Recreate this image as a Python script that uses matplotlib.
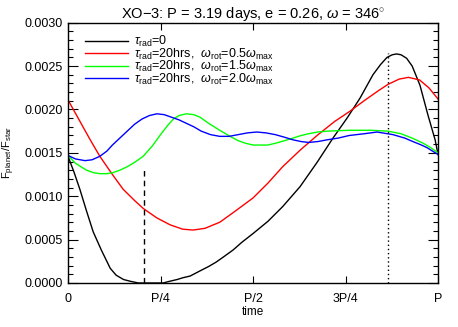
import numpy as np
import matplotlib
matplotlib.use("Agg")
import matplotlib.pyplot as plt
from matplotlib.ticker import MultipleLocator, FixedLocator, FormatStrFormatter

plt.rcParams['font.family'] = ['Liberation Sans', 'DejaVu Sans']
plt.rcParams['mathtext.fontset'] = 'custom'
plt.rcParams['mathtext.rm'] = 'Liberation Sans'
plt.rcParams['mathtext.it'] = 'Liberation Sans:italic'

# orbital phase values
black_x = [0.0, 0.016, 0.032, 0.05, 0.068, 0.09, 0.114, 0.13, 0.15, 0.168, 0.19,
           0.257, 0.275, 0.295, 0.31, 0.33, 0.357, 0.38, 0.40, 0.42, 0.446, 0.47,
           0.50, 0.54, 0.58, 0.627, 0.673, 0.716, 0.754, 0.789, 0.824, 0.845,
           0.862, 0.876, 0.888, 0.90, 0.915, 0.93, 0.951, 0.973, 0.992, 1.0]
black_y = [0.00146, 0.00128, 0.00108, 0.00083, 0.00059, 0.00038, 0.00017, 0.00009,
           0.00004, 0.00002, 0.0, 0.0, 0.00002, 0.00004, 0.00006, 0.00008,
           0.00014, 0.00019, 0.00024, 0.0003, 0.00038, 0.00047, 0.00057, 0.00071,
           0.00088, 0.00111, 0.00139, 0.00167, 0.0019, 0.00213, 0.0024, 0.00252,
           0.0026, 0.00263, 0.00264, 0.00263, 0.00259, 0.0025, 0.00228, 0.00193,
           0.00165, 0.00148]

red_x = [0.0, 0.03, 0.06, 0.086, 0.12, 0.149, 0.18, 0.203, 0.24, 0.276, 0.31,
         0.338, 0.37, 0.41, 0.446, 0.50, 0.54, 0.58, 0.627, 0.673, 0.72, 0.762,
         0.80, 0.84, 0.865, 0.895, 0.92, 0.95, 0.975, 1.0]
red_y = [0.00211, 0.00188, 0.00165, 0.00146, 0.00125, 0.00108, 0.00095, 0.00086,
         0.00075, 0.00067, 0.00062, 0.00061, 0.00063, 0.0007, 0.00081, 0.00098,
         0.00115, 0.00134, 0.00153, 0.0017, 0.00186, 0.00198, 0.0021, 0.00222,
         0.00229, 0.00235, 0.00237, 0.00234, 0.00225, 0.00212]

green_x = [0.0, 0.02, 0.05, 0.07, 0.086, 0.105, 0.12, 0.14, 0.16, 0.18, 0.203,
           0.228, 0.25, 0.27, 0.285, 0.30, 0.32, 0.34, 0.357, 0.38, 0.41, 0.438,
           0.46, 0.48, 0.50, 0.519, 0.54, 0.56, 0.585, 0.608, 0.63, 0.65, 0.675,
           0.70, 0.76, 0.82, 0.865, 0.9, 0.93, 0.96, 0.98, 1.0]
green_y = [0.00147, 0.00138, 0.0013, 0.00127, 0.00126, 0.00126, 0.00127, 0.0013,
           0.00134, 0.00139, 0.00146, 0.00158, 0.00171, 0.00182, 0.00189, 0.00193,
           0.00195, 0.00194, 0.00191, 0.00184, 0.00176, 0.00169, 0.00164, 0.00161,
           0.00159, 0.00159, 0.00159, 0.00161, 0.00164, 0.00167, 0.0017, 0.00172,
           0.00174, 0.00175, 0.00176, 0.00176, 0.00175, 0.00172, 0.00167, 0.00161,
           0.00156, 0.0015]

blue_x = [0.0, 0.02, 0.046, 0.065, 0.086, 0.105, 0.12, 0.14, 0.16, 0.18, 0.20,
          0.22, 0.24, 0.26, 0.28, 0.30, 0.32, 0.34, 0.36, 0.385, 0.41, 0.435,
          0.46, 0.485, 0.51, 0.535, 0.56, 0.585, 0.608, 0.63, 0.65, 0.675, 0.70,
          0.73, 0.76, 0.80, 0.835, 0.878, 0.91, 0.932, 0.955, 0.97, 0.985, 1.0]
blue_y = [0.00147, 0.00143, 0.00141, 0.00142, 0.00146, 0.00152, 0.00159, 0.00167,
          0.00175, 0.00183, 0.00189, 0.00193, 0.00195, 0.00194, 0.00191, 0.00188,
          0.00184, 0.0018, 0.00175, 0.00171, 0.00169, 0.00169, 0.00171, 0.00173,
          0.00174, 0.00173, 0.00171, 0.00168, 0.00165, 0.00163, 0.00162, 0.00163,
          0.00165, 0.00167, 0.0017, 0.00172, 0.00174, 0.00171, 0.00167, 0.00163,
          0.00159, 0.00156, 0.00152, 0.00148]

labels = [r'$\tau_{\rm rad}$=0',
          r'$\tau_{\rm rad}$=20hrs,  $\omega_{\rm rot}$=0.5$\omega_{\rm max}$',
          r'$\tau_{\rm rad}$=20hrs,  $\omega_{\rm rot}$=1.5$\omega_{\rm max}$',
          r'$\tau_{\rm rad}$=20hrs,  $\omega_{\rm rot}$=2.0$\omega_{\rm max}$']
colors = ['black', '#ff0000', '#00ff00', '#0000ff']

# vertical markers (transit / periastron)
dash_x, dash_top = 0.205, 0.00132
dot_x, dot_top = 0.864, 0.00265

xtick_pos = [0, 0.25, 0.5, 0.75, 1.0]
xtick_lab = ['0', 'P/4', 'P/2', '3P/4', 'P']

fig = plt.figure(figsize=(4.58, 3.27), dpi=100)
ax = fig.add_axes([0.1485, 0.1346, 0.808, 0.796])

series = [(black_x, black_y), (red_x, red_y), (green_x, green_y), (blue_x, blue_y)]
for (xs, ys), c, lab in zip(series, colors, labels):
    ax.plot(xs, ys, color=c, lw=1.0, label=lab)

ax.plot([dash_x, dash_x], [0, dash_top], color='black', lw=1.0, ls=(0, (4, 3)))
ax.plot([dot_x, dot_x], [0, dot_top], color='black', lw=1.0, ls=(0, (1, 2)))

ax.set_xlim(0, 1)
ax.set_ylim(0, 0.003)
ax.xaxis.set_major_locator(FixedLocator(xtick_pos))
ax.set_xticklabels(xtick_lab)
ax.yaxis.set_major_locator(MultipleLocator(0.0005))
ax.yaxis.set_minor_locator(MultipleLocator(0.0001))
ax.yaxis.set_major_formatter(FormatStrFormatter('%.4f'))
ax.tick_params(which='both', direction='in', top=True, right=True, labelsize=9,
               width=0.8, colors='black')
ax.tick_params(which='major', axis='y', length=7, pad=4)
ax.tick_params(which='minor', axis='y', length=3.5)
ax.tick_params(which='major', axis='x', length=5, pad=7)
for s in ax.spines.values():
    s.set_linewidth(1.0)

ax.set_xlabel('time', fontsize=8.5, labelpad=1)
ax.set_ylabel(r'F$_{\rm planet}$/F$_{\rm star}$', fontsize=8, labelpad=5)
ax.set_title(r'XO$-$3: P = 3.19 days, e = 0.26, $\omega$ = 346$^{\circ}$',
             fontsize=10.5, pad=3)

ax.legend(loc='upper left', bbox_to_anchor=(0.02, 0.995), frameon=False,
          fontsize=9, handlelength=3.4, handletextpad=0.5, labelspacing=-0.2,
          borderpad=0.3)

fig.savefig('out.png', dpi=100)
